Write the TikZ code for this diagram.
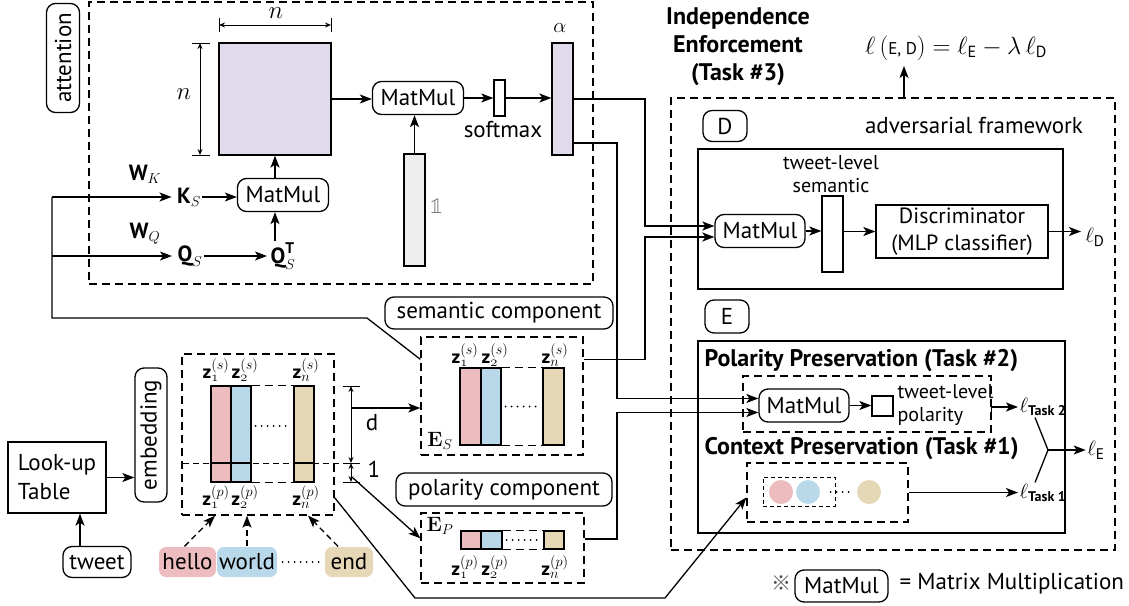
\documentclass[tikz,border=0pt]{standalone}
\usepackage{amsmath}
\usepackage[no-math]{fontspec}
\setmainfont{PT Sans}
\newfontfamily\cjkfont{Noto Sans CJK JP}
\newfontfamily\lmmath{latinmodern-math.otf}
\usetikzlibrary{arrows.meta,fit}
\definecolor{pinkc}{RGB}{236,188,190}
\definecolor{bluec}{RGB}{185,216,234}
\definecolor{tanc}{RGB}{230,215,182}
\definecolor{lav}{RGB}{224,218,234}
\definecolor{onegray}{RGB}{238,238,238}
\newcommand{\tasksub}[1]{\text{\fontsize{14}{14}\selectfont\bfseries #1}}
\tikzset{
  lbl/.style={font=\fontsize{23}{27}\selectfont, inner sep=1pt},
  sml/.style={font=\fontsize{20}{23}\selectfont, inner sep=1pt},
  bld/.style={font=\fontsize{24}{28}\selectfont\bfseries, inner sep=1pt},
  mth/.style={font=\fontsize{22}{24}\selectfont, inner sep=1pt},
  zl/.style={font=\fontsize{19}{22}\selectfont, inner sep=1pt},
  rbox/.style={draw, rounded corners=9pt, inner sep=0pt, font=\fontsize{23}{27}\selectfont},
  pbox/.style={draw, inner sep=0pt},
  dbox/.style={draw, dash pattern=on 8pt off 5pt, inner sep=0pt},
  fine/.style={draw, dash pattern=on 4pt off 3pt, line width=0.8pt, inner sep=0pt},
  gapdash/.style={dash pattern=on 8pt off 5pt},
  dotl/.style={line width=2pt, dash pattern=on 0pt off 6pt, line cap=round},
  dim/.style={line width=1pt, {Stealth[length=6pt,width=5pt]}-{Stealth[length=6pt,width=5pt]}},
  tick/.style={line width=1pt},
  word/.style={rounded corners=7pt, minimum height=30pt, inner sep=0pt, font=\fontsize{23}{27}\selectfont},
  dot/.style={circle, inner sep=0pt, minimum size=24pt}
}
\begin{document}
\begin{tikzpicture}[x=1pt,y=-1pt,line width=1.3pt,>={Stealth[length=12pt,width=9pt,inset=3pt]}]
\useasboundingbox (0,0) rectangle (1129,605);

% ---------------- attention block ----------------
\node[dbox, fit={(89,2)(593,284)}] (att) {};
\node[rbox, minimum width=33pt, minimum height=109pt] (attl) at (63,58) {};
\node[lbl, rotate=90] (attt) at (attl) {attention};

\node[pbox, fill=lav, fit={(219,43)(331,155)}] (sq) {};
\node[font=\fontsize{23}{23}\selectfont, inner sep=0pt] (ntop) at (276,13) {$n$};
\draw[dim] (219,25) -- (331,25);
\draw[tick] (219,18) -- (219,32) (331,18) -- (331,32);
\node[font=\fontsize{23}{23}\selectfont] (nleft) at (184,94) {$n$};
\draw[dim] (200,43) -- (200,155);
\draw[tick] (192,43) -- (210,43) (192,155) -- (210,155);

\node[rbox, minimum width=91pt, minimum height=33pt] (mm2) at (418,98) {MatMul};
\node[pbox, fit={(494,80)(505,116)}] (sm) {};
\node[lbl] (smlbl) at (503,130) {softmax};
\node[pbox, fill=lav, fit={(552,43)(573,155)}] (alpha) {};
\node[font=\fontsize{22}{22}\selectfont] (alphal) at (560,28) {$\alpha$};
\node[pbox, fill=onegray, fit={(404,154)(425,266)}] (ones) {};
\node[font=\lmmath\fontsize{23}{23}\selectfont, text=black!55] (onel) at (437,206) {𝟙};

\draw[->] (sq.east) -- (sq.east -| mm2.west);
\draw[->] (mm2.east) -- (mm2.east -| sm.west);
\draw[->] (sm.east) -- (sm.east -| alpha.west);
\draw[->] (ones.north) -- (ones.north |- mm2.south);

\node[rbox, minimum width=91pt, minimum height=33pt] (mm1) at (283,195) {MatMul};
\draw[->] (sq.south |- mm1.north) -- (sq.south);
\node[mth] (ks) at (189,197) {$\textbf{K}_{S}$};
\node[mth] (qs) at (190,256) {$\textbf{Q}_{S}$};
\node[mth] (qt) at (283,256) {$\textbf{Q}^{\textbf{T}}_{S}$};
\node[mth] (wk) at (145,174) {$\textbf{W}_{K}$};
\node[mth] (wq) at (145,234) {$\textbf{W}_{Q}$};
\draw[->] (ks.east) -- (ks.east -| mm1.west);
\draw[->] (qs.east) -- ([xshift=-2pt]qs.east -| qt.west);
\draw[->] (qt.north -| sq.south) -- (mm1.south -| sq.south);

% ---------------- embedding ----------------
\node[pbox, minimum width=98pt, minimum height=71pt, align=left,
      font=\fontsize{23}{29}\selectfont] (lut) at (57,477.5) {Look-up\\Table};
\node[rbox, minimum width=32pt, minimum height=134pt] (embl) at (151,435) {};
\node[lbl, rotate=90] (embt) at (embl) {embedding};
\draw[->] (lut.east) -- (lut.east -| embl.west);
\node[rbox, minimum width=68pt, minimum height=31pt] (tweet) at (97,562) {tweet};
\draw[->] (tweet.north -| 80,0) -- (lut.south -| 80,0);

\node[dbox, fit={(182,354)(334,515)}] (emb) {};
\node[pbox, fill=pinkc, fit={(211,386)(231,482)}] (eb1) {};
\node[pbox, fill=bluec, fit={(231,386)(251,482)}] (eb2) {};
\node[pbox, fill=tanc, fit={(294,386)(314,482)}] (ebn) {};
\draw[gapdash] (eb2.north east) -- (ebn.north west);
\draw[gapdash] (eb2.south east) -- (ebn.south west);
\draw[dotl] ([xshift=4pt,yshift=8pt]eb2.east) -- ([xshift=-3pt,yshift=8pt]ebn.west);
\draw[line width=1pt, dash pattern=on 6pt off 4pt] (183,463) -- (345,463);
\draw (211,463) -- (251,463) (294,463) -- (314,463);
\node[zl] (ez1) at (216,370) {$\textbf{z}^{(s)}_{\mathnormal{1}}$};
\node[zl] (ez2) at (245,370) {$\textbf{z}^{(s)}_{\mathnormal{2}}$};
\node[zl] (ezn) at (306,370) {$\textbf{z}^{(s)}_{n}$};
\node[zl] (ep1) at (216,497) {$\textbf{z}^{(p)}_{\mathnormal{1}}$};
\node[zl] (ep2) at (245,497) {$\textbf{z}^{(p)}_{\mathnormal{2}}$};
\node[zl] (epn) at (306,497) {$\textbf{z}^{(p)}_{n}$};

\draw[dim] (351,386) -- (351,463);
\draw[dim] (351,463) -- (351,482);
\draw[tick] (343,386) -- (360,386) (343,463) -- (360,463) (343,482) -- (360,482);
\node[lbl] (dl) at (372,423) {d};
\node[lbl] (onel2) at (374,469) {1};

\node[word, fill=pinkc, minimum width=57pt] (hello) at (187.5,562) {hello};
\node[word, fill=bluec, minimum width=60pt] (world) at (247,562) {world};
\node[word, fill=tanc, minimum width=48pt] (end) at (349,562) {end};
\draw[dotl] ([xshift=5pt]world.east) -- ([xshift=-4pt]end.west);
\draw[->, dash pattern=on 6pt off 4pt] ([xshift=-3pt]hello.north) -- ([xshift=-6pt]eb1.south |- emb.south);
\draw[->, dash pattern=on 6pt off 4pt] (world.north) -- (world.north |- emb.south);
\draw[->, dash pattern=on 6pt off 4pt] ([xshift=-11pt]end.north) -- ([xshift=4pt]ebn.south |- emb.south);

% ---------------- semantic component ----------------
\node[rbox, minimum width=228pt, minimum height=32pt] (semlbl) at (499,313) {semantic component};
\node[dbox, fit={(421,337)(583,455)}] (es) {};
\node[pbox, fill=pinkc, fit={(460,368)(481,445)}] (sb1) {};
\node[pbox, fill=bluec, fit={(481,368)(501,445)}] (sb2) {};
\node[pbox, fill=tanc, fit={(543,368)(564,445)}] (sbn) {};
\draw[gapdash] (sb2.north east) -- (sbn.north west);
\draw[gapdash] (sb2.south east) -- (sbn.south west);
\draw[dotl] ([xshift=4pt]sb2.east) -- ([xshift=-3pt]sbn.west);
\node[zl] (sz1) at (465,355) {$\textbf{z}^{(s)}_{\mathnormal{1}}$};
\node[zl] (sz2) at (495,355) {$\textbf{z}^{(s)}_{\mathnormal{2}}$};
\node[zl] (szn) at (555,355) {$\textbf{z}^{(s)}_{n}$};
\node[font=\fontsize{22}{22}\selectfont] (esl) at (440,441) {$\mathbf{E}_{S}$};

% ---------------- polarity component ----------------
\node[rbox, minimum width=216pt, minimum height=33pt] (pollbl) at (504,489.5) {polarity component};
\node[dbox, fit={(421,513)(584,583)}] (ep) {};
\node[pbox, fill=pinkc, fit={(461,531)(481,549)}] (pb1) {};
\node[pbox, fill=bluec, fit={(481,531)(502,549)}] (pb2) {};
\node[pbox, fill=tanc, fit={(544,531)(564,549)}] (pbn) {};
\draw[gapdash] (pb2.north east) -- (pbn.north west);
\draw[gapdash] (pb2.south east) -- (pbn.south west);
\draw[dotl] ([xshift=4pt]pb2.east) -- ([xshift=-3pt]pbn.west);
\node[zl] (pz1) at (465,567) {$\textbf{z}^{(p)}_{\mathnormal{1}}$};
\node[zl] (pz2) at (495,567) {$\textbf{z}^{(p)}_{\mathnormal{2}}$};
\node[zl] (pzn) at (555,567) {$\textbf{z}^{(p)}_{n}$};
\node[font=\fontsize{22}{22}\selectfont] (epl) at (440,526) {$\mathbf{E}_{P}$};

% split arrows from the embedding
\coordinate (dmid) at (351,408);
\draw[->] (dmid) -- (dmid -| es.west);
\coordinate (onefoot) at (353,478);
\draw[->] (onefoot) -- ([yshift=-26pt]ep.north west);

% semantic component feeds keys and queries
\coordinate (split) at (52,318);
\draw ([yshift=-23pt]es.north west) -- (367,318) -- (split) -- (split |- ks.west);
\draw[->] (split |- ks.west) -- ([xshift=-4pt]ks.west);
\draw[->] (split |- qs.west) -- ([xshift=-4pt]qs.west);

% ---------------- adversarial framework ----------------
\node[bld, align=center] (title) at (738,47) {Independence\\Enforcement\\(Task \#3)};
\node[font=\fontsize{23}{23}\selectfont] (loss) at (956,48)
  {$\ell\,(\text{\fontsize{17}{17}\selectfont E, D}) = \ell_{\text{E}} - \lambda\,\ell_{\text{D}}$};
\node[dbox, fit={(671,98)(1115,550)}] (adv) {};
\draw[->] (adv.north -| 904,0) -- (904,66);
\node[lbl] (advlbl) at (974,125) {adversarial framework};

\node[rbox, minimum width=44pt, minimum height=31pt] (dlbl) at (725,126) {D};
\node[pbox, fit={(698,149)(1063,289)}] (dbx) {};
\node[sml, align=center] (tls) at (831,174) {tweet-level\\semantic};
\node[pbox, fit={(822,196)(843,272)}] (sbar) {};
\node[rbox, minimum width=90pt, minimum height=33pt] (mmd) at (760,231) {MatMul};
\node[pbox, minimum width=172pt, minimum height=53pt, align=center,
      font=\fontsize{22}{27}\selectfont] (disc) at (962,231.5) {Discriminator\\(MLP classifier)};
\node[mth] (ld) at (1095,237) {$\ell_{\text{D}}$};
\draw[->] (mmd.east) -- (mmd.east -| sbar.west);
\draw[->] (sbar.east |- disc.west) -- (disc.west);
\draw[->] (disc.east) -- (disc.east -| 1081,0);

\node[rbox, minimum width=44pt, minimum height=33pt] (elbl) at (727,316.5) {E};
\node[pbox, fit={(698,341)(1065,533)}] (ebx) {};
\node[bld, anchor=west] (poltitle) at (703,361) {Polarity Preservation (Task \#2)};
\node[dbox, fit={(743,376)(991,432)}] (polbox) {};
\node[rbox, minimum width=90pt, minimum height=33pt] (mme) at (804,405.5) {MatMul};
\node[pbox, fit={(872,396)(893,416)}] (psq) {};
\node[sml, align=left, anchor=west] (tlp) at (896,405) {tweet-level\\polarity};
\draw[->] (mme.east) -- (mme.east -| psq.west);

\node[bld, anchor=west] (ctxtitle) at (703,449) {Context Preservation (Task \#1)};
\node[dbox, fit={(747,463)(908,522)}] (ctx) {};
\node[fine, fit={(763,477)(835,506)}] (ctxin) {};
\node[dot, fill=pinkc] (c1) at (781,492) {};
\node[dot, fill=bluec] (c2) at (808,492) {};
\node[dot, fill=tanc] (c3) at (869,492) {};
\draw[dotl] ([xshift=10pt]c2.east) -- ([xshift=-6pt]c3.west);

\node[mth, anchor=west] (lt2) at (1018,407) {$\ell_{\tasksub{Task 2}}$};
\node[mth, anchor=west] (lt1) at (1018,493) {$\ell_{\tasksub{Task 1}}$};
\node[mth] (le) at (1096,450) {$\ell_{\text{E}}$};
\draw[->] ([yshift=-12pt]polbox.east) |- (lt2.west);
\draw[->] (ctx.east) -- (ctx.east -| lt1.west);
\coordinate (mrg) at (1048,450);
\draw ([xshift=17pt]lt2.south west) -- (mrg) -- ([xshift=17pt]lt1.north west);
\draw[->] (mrg) -- (mrg -| le.west);

% ---------------- connectors into both MatMul units ----------------
\coordinate (busA) at (645,0);
\coordinate (busB) at (617,0);
\coordinate (din1) at ([yshift=5pt]mmd.west);
\coordinate (din2) at ([yshift=-6pt]mmd.west);
\coordinate (ein1) at ([yshift=7pt]mme.west);
\coordinate (ein2) at ([yshift=-7pt]mme.west);
\draw[->] (alpha.east) -| (busA |- din1) -- (din1);
\draw[->] ([yshift=-23pt]es.north east) -| (busA |- din2) -- (din2);
\draw[->] ([yshift=-44pt]alpha.east) -| (busB |- ein1) -- (ein1);
\draw[->] ([yshift=9pt]ep.east) -| (busB |- ein2) -- (ein2);

% context preservation input
\draw[->] ([yshift=18pt]emb.south east) -- (415,598) -- (665,598) -- ([yshift=-5pt]ctx.west);

% ---------------- legend ----------------
\node[font=\cjkfont\fontsize{20}{20}\selectfont, text=black!70] (mark) at (781,583) {※};
\node[rbox, minimum width=93pt, minimum height=32pt] (mmleg) at (841.5,586) {MatMul};
\node[lbl, anchor=west] (legtxt) at (898,584) {= Matrix Multiplication};
\end{tikzpicture}
\end{document}
